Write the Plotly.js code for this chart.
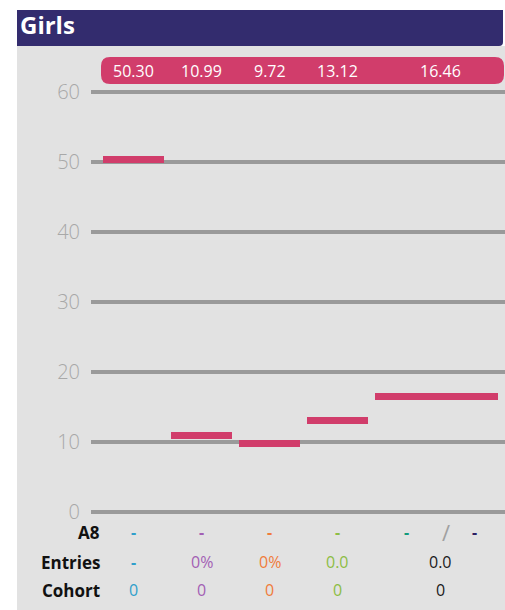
<!DOCTYPE html>
<html>
<head>
<meta charset="utf-8">
<script src="https://cdn.plot.ly/plotly-3.0.1.min.js"></script>
<style>
html,body{margin:0;padding:0;background:#fff;}
#chart{width:505px;height:610px;}
</style>
</head>
<body>
<div id="chart"></div>
<script>
// ---- data ----
const title = 'Girls';
const values = [50.30, 10.99, 9.72, 13.12, 16.46];
const rowLabels = ['A8', 'Entries', 'Cohort'];
const a8Labels = ['-', '-', '-', '-'];
const a8LastLabels = ['-', '/', '-'];
const entriesLabels = ['-', '0%', '0%', '0.0', '0.0'];
const cohortLabels = ['0', '0', '0', '0', '0'];
const yTicks = [0, 10, 20, 30, 40, 50, 60];

// ---- layout / style ----
const colX = [0, 1, 2, 3, 4.456];
const colW = [0.9, 0.9, 0.9, 0.9, 1.81];
const textX = [0, 1, 2, 3, 4.52];
const lastA8X = [4.02, 4.59, 5.02];
const colColors = ['#2f9fcb', '#a35fb4', '#f07c3b', '#8dbd45', '#1a1a1a'];
const lastA8Colors = ['#139a7b', '#a0a0a0', '#2c1f63'];
const pink = '#d13d6b';
const navy = '#332c6e';
const FONT = 'Open Sans, Noto Sans, sans-serif';
const thickness = 1;

const trace = {
  type: 'bar',
  x: colX,
  y: values.map(() => thickness),
  base: values.map(v => v - thickness / 2),
  width: colW,
  marker: {color: pink, line: {width: 0}},
  hoverinfo: 'skip',
  showlegend: false
};

// paper coordinate helpers (plot area: x 91..505, y 50..519)
const L = 91, R = 505, T = 50, B = 519;
const px = x => (x - L) / (R - L);
const py = y => (B - y) / (B - T);

const fmt = t => (t === '-' ? '<b>' + t + '</b>' : t);

const annotations = [];
// pill values
values.forEach((v, i) => annotations.push({
  xref: 'x', yref: 'paper', x: textX[i], y: py(71), text: v.toFixed(2),
  showarrow: false, xanchor: 'center', yanchor: 'middle',
  font: {family: FONT, size: 16, color: '#ffffff'}
}));
// row labels
const rowY = [532, 562, 590];
rowLabels.forEach((t, i) => annotations.push({
  xref: 'paper', yref: 'paper', x: px(102), y: py(rowY[i]), text: '<b>' + t + '</b>',
  showarrow: false, xanchor: 'right', yanchor: 'middle',
  font: {family: FONT, size: 17, color: '#111111'}
}));
// A8 row
a8Labels.forEach((t, i) => annotations.push({
  xref: 'x', yref: 'paper', x: textX[i], y: py(rowY[0]), text: fmt(t),
  showarrow: false, xanchor: 'center', yanchor: 'middle',
  font: {family: FONT, size: 16, color: colColors[i]}
}));
a8LastLabels.forEach((t, i) => annotations.push({
  xref: 'x', yref: 'paper', x: lastA8X[i], y: py(rowY[0]), text: fmt(t),
  showarrow: false, xanchor: 'center', yanchor: 'middle',
  font: {family: FONT, size: t === '/' ? 22 : 16, color: lastA8Colors[i]}
}));
// Entries row
entriesLabels.forEach((t, i) => annotations.push({
  xref: 'x', yref: 'paper', x: textX[i], y: py(rowY[1]), text: fmt(t),
  showarrow: false, xanchor: 'center', yanchor: 'middle',
  font: {family: FONT, size: 16, color: colColors[i]}
}));
// Cohort row
cohortLabels.forEach((t, i) => annotations.push({
  xref: 'x', yref: 'paper', x: textX[i], y: py(rowY[2]), text: t,
  showarrow: false, xanchor: 'center', yanchor: 'middle',
  font: {family: FONT, size: 16, color: colColors[i]}
}));

// rounded pill path (paper coords)
function roundRect(x0, y0, x1, y1, r) {
  const rx = r / (R - L), ry = r / (B - T);
  const X0 = px(x0), X1 = px(x1), Y0 = py(y1), Y1 = py(y0);
  return `M ${X0 + rx},${Y1} L ${X1 - rx},${Y1} Q ${X1},${Y1} ${X1},${Y1 - ry} ` +
    `L ${X1},${Y0 + ry} Q ${X1},${Y0} ${X1 - rx},${Y0} L ${X0 + rx},${Y0} ` +
    `Q ${X0},${Y0} ${X0},${Y0 + ry} L ${X0},${Y1 - ry} Q ${X0},${Y1} ${X0 + rx},${Y1} Z`;
}
function titleBarPath(x0, y0, x1, y1, r) {
  const rx = r / (R - L), ry = r / (B - T);
  const X0 = px(x0), X1 = px(x1), Y0 = py(y1), Y1 = py(y0);
  return `M ${X0},${Y1} L ${X1},${Y1} L ${X1},${Y0 + ry} Q ${X1},${Y0} ${X1 - rx},${Y0} ` +
    `L ${X0},${Y0} Z`;
}

const shapes = [
  {type: 'rect', xref: 'paper', yref: 'paper', x0: px(17), x1: px(505), y0: py(610), y1: py(46),
   fillcolor: '#e2e2e2', line: {width: 0}, layer: 'below'},
  {type: 'path', xref: 'paper', yref: 'paper', path: titleBarPath(17, 10, 503, 46, 4),
   fillcolor: navy, line: {width: 0}, layer: 'below'},
  {type: 'path', xref: 'paper', yref: 'paper', path: roundRect(101, 57, 504, 84, 9),
   fillcolor: pink, line: {width: 0}, layer: 'below'}
];

const layout = {
  width: 505, height: 610,
  margin: {l: L, r: 505 - R, t: T, b: 610 - B, pad: 0},
  paper_bgcolor: '#ffffff',
  plot_bgcolor: 'rgba(0,0,0,0)',
  title: {
    text: '<b>' + title + '</b>', xref: 'container', yref: 'container',
    x: 20 / 505, xanchor: 'left', y: 1 - 26 / 610, yanchor: 'middle',
    font: {family: FONT, size: 24, color: '#ffffff'}
  },
  xaxis: {
    range: [-0.625, 5.463], showgrid: false, zeroline: false, showticklabels: false,
    ticks: '', fixedrange: true
  },
  yaxis: {
    range: [-1, 66], tickvals: yTicks, ticktext: yTicks.map(String),
    showgrid: true, gridcolor: '#9a9a9a', gridwidth: 4,
    zeroline: true, zerolinecolor: '#9a9a9a', zerolinewidth: 4,
    ticks: '', ticklabelstandoff: 10,
    tickfont: {family: FONT, size: 20, color: '#a8a8a8', weight: 300},
    fixedrange: true
  },
  bargap: 0,
  shapes: shapes,
  annotations: annotations,
  showlegend: false
};

Plotly.newPlot('chart', [trace], layout, {displayModeBar: false, staticPlot: true});
</script>
</body>
</html>
